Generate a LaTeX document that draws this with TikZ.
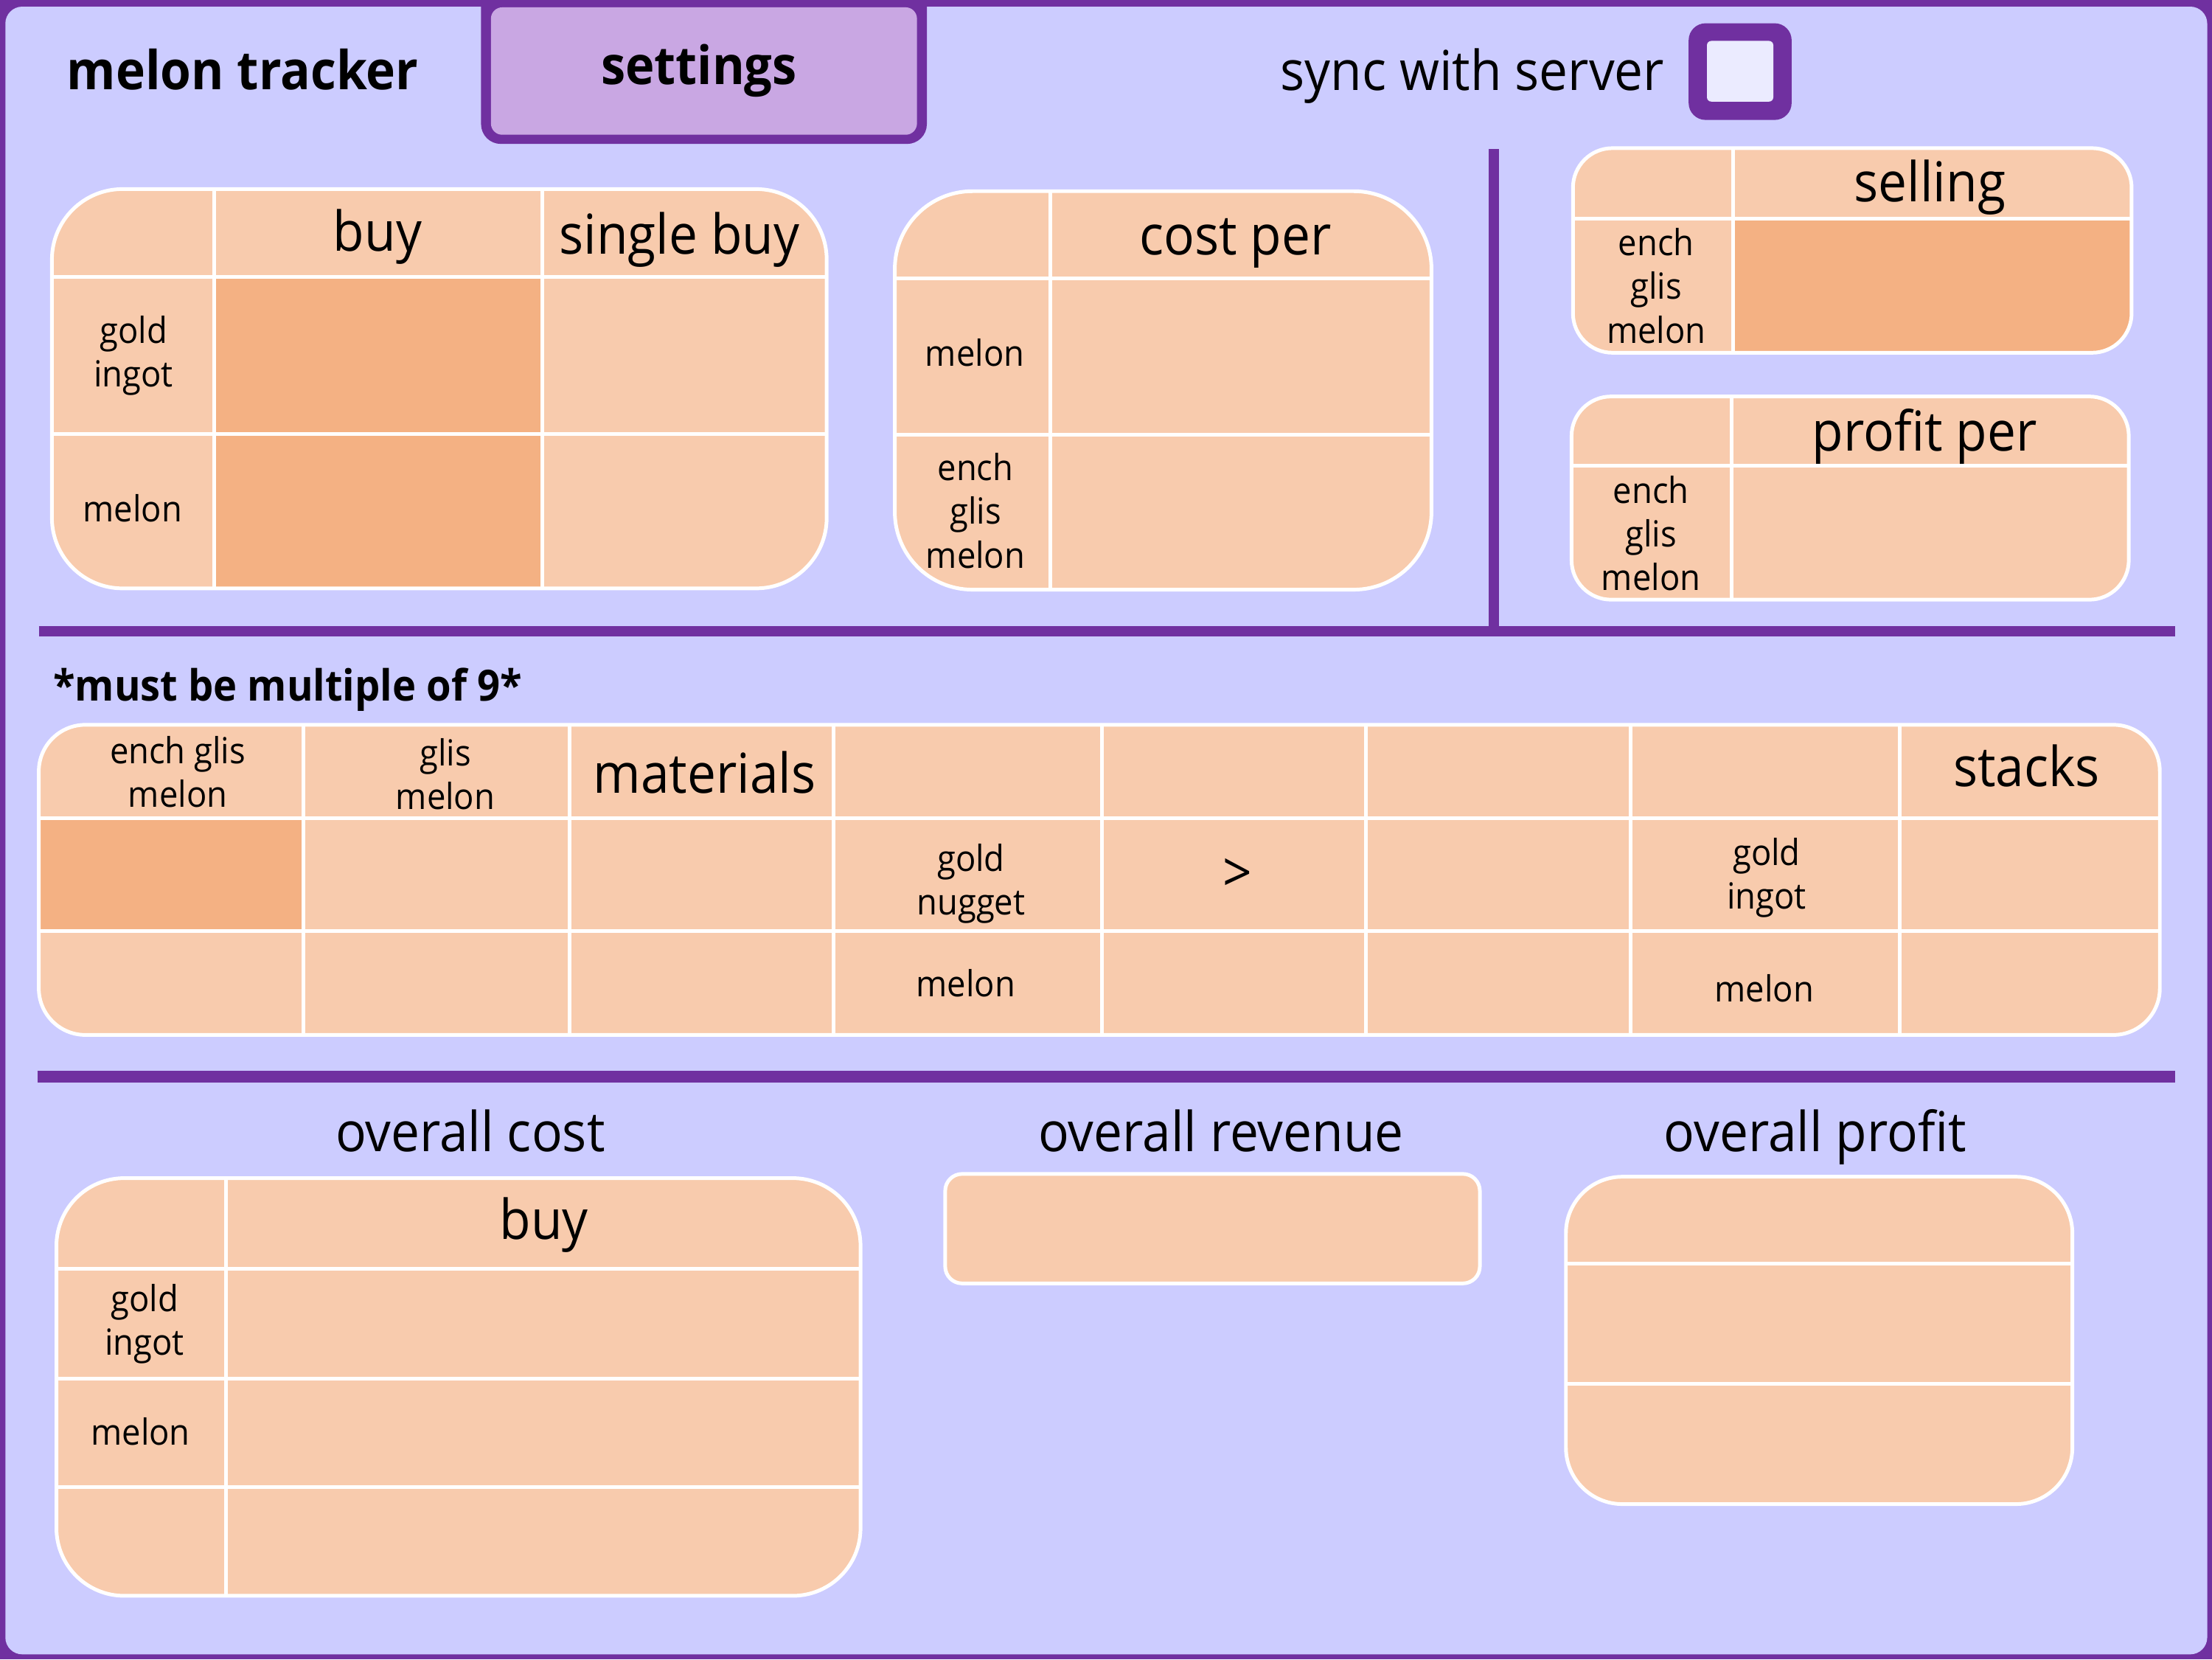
\documentclass[tikz,border=0pt]{standalone}
\usepackage{fontspec}
\setmainfont{Open Sans}[FakeStretch=0.93]
\usepackage{tikz}

\definecolor{frame}{HTML}{7030A0}
\definecolor{panel}{HTML}{CCCCFF}
\definecolor{tabfill}{HTML}{C9A7E3}
\definecolor{peach}{HTML}{F8CBAD}
\definecolor{peachdark}{HTML}{F4B183}
\definecolor{boxfill}{HTML}{EBEBFF}

\tikzset{
  tbl/.style={fill=peach},
  tblline/.style={white,line width=2.6pt},
  hot/.style={fill=peachdark},
  rule/.style={frame,line width=7.5pt},
  big/.style={font=\fontsize{39}{45}\selectfont},
  small/.style={font=\fontsize{25.5}{31}\selectfont,align=center},
  heavy/.style={font=\bfseries\fontsize{38}{44}\selectfont}
}

\begin{document}
\begin{tikzpicture}[x=1pt,y=-1pt]
\useasboundingbox (0,0) rectangle (1568,1176);
\fill[frame](0,0) rectangle (1568,1176);
\fill[panel,rounded corners=12](3.8,4.7) rectangle (1564.6,1172.5);

% tabs and checkbox
\fill[frame,rounded corners=14](341,-20) rectangle (657,102);
\fill[tabfill,rounded corners=8](348,5.2) rectangle (650,95.5);
\node[heavy] (title) at (172,49){melon tracker};
\node[heavy,font=\bfseries\fontsize{37.5}{44}\selectfont] (settings) at (495.5,50){settings};
\node[big] (sync) at (1043.6,53.7){sync with server};
\fill[frame,rounded corners=12](1197,16.5) rectangle (1270,85);
\fill[boxfill,rounded corners=3](1210,29) rectangle (1257,72);

% dividers
\draw[rule](1059,105.6) -- (1059,447.5);
\draw[rule](27.5,447.5) -- (1542,447.5);
\draw[rule,line width=8pt](26.5,763) -- (1542,763);

% buy / single buy
\fill[tbl,rounded corners=50](36.8,134) rectangle (586,417);
\fill[hot](151.7,196) rectangle (384.5,417);
\draw[tblline](151.7,134) -- (151.7,417);
\draw[tblline](384.5,134) -- (384.5,417);
\draw[tblline](36.8,196) -- (586,196);
\draw[tblline](36.8,307.5) -- (586,307.5);
\draw[tblline,rounded corners=50](36.8,134) rectangle (586,417);
\node[big] (buy) at (267.6,168){buy};
\node[big] (single) at (481.6,169.7){single buy};
\node[small] (ingot) at (94.7,252){gold\\ingot};
\node[small] (melon) at (94,360){melon};

% cost per
\fill[tbl,rounded corners=55](634.3,135.5) rectangle (1014.7,417.9);
\draw[tblline](744.3,135.5) -- (744.3,417.9);
\draw[tblline](634.3,197.4) -- (1014.7,197.4);
\draw[tblline](634.3,308.2) -- (1014.7,308.2);
\draw[tblline,rounded corners=55](634.3,135.5) rectangle (1014.7,417.9);
\node[big] (cost) at (875.6,172.5){cost per};
\node[small] (costmelon) at (691,250.1){melon};
\node[small] (costench) at (691.5,361.9){ench\\glis\\melon};

% selling
\fill[tbl,rounded corners=28](1115,105) rectangle (1511,250);
\begin{scope}
\clip[rounded corners=28](1115,105) rectangle (1511,250);
\fill[hot](1228.5,155) rectangle (1511,250);
\end{scope}
\draw[tblline](1228.5,105) -- (1228.5,250);
\draw[tblline](1115,155) -- (1511,155);
\draw[tblline,rounded corners=28](1115,105) rectangle (1511,250);
\node[big] (selling) at (1368,132.8){selling};
\node[small] (sellench) at (1174,202.5){ench\\glis\\melon};

% profit per
\fill[tbl,rounded corners=28](1114,281) rectangle (1509,425);
\draw[tblline](1227.5,281) -- (1227.5,425);
\draw[tblline](1114,330) -- (1509,330);
\draw[tblline,rounded corners=28](1114,281) rectangle (1509,425);
\node[big] (profit) at (1364.3,309.4){profit per};
\node[small] (profench) at (1170.3,378){ench\\glis\\melon};

% materials
\node[font=\bfseries\fontsize{30.5}{36}\selectfont,anchor=west,inner sep=0pt] (nine) at (37.5,488.8){*must be multiple of 9*};
\fill[tbl,rounded corners=33](27.5,513.7) rectangle (1531,733.5);
\fill[hot](27.5,580) rectangle (215,660);
\draw[tblline](215,513.7) -- (215,733.5);
\draw[tblline](404,513.7) -- (404,733.5);
\draw[tblline](591,513.7) -- (591,733.5);
\draw[tblline](781,513.7) -- (781,733.5);
\draw[tblline](968,513.7) -- (968,733.5);
\draw[tblline](1156,513.7) -- (1156,733.5);
\draw[tblline](1346.5,513.7) -- (1346.5,733.5);
\draw[tblline](27.5,580) -- (1531,580);
\draw[tblline](27.5,660) -- (1531,660);
\draw[tblline,rounded corners=33](27.5,513.7) rectangle (1531,733.5);
\node[small] (enchglis) at (126,547){ench glis\\melon};
\node[small] (glis) at (315.7,548.8){glis\\melon};
\node[big] (materials) at (499.5,547.7){materials};
\node[big] (stacks) at (1436.5,543){stacks};
\node[small] (nugget) at (688.3,626.2){gold\\nugget};
\node[big] (arrow) at (877.3,620.4){>};
\node[small] (matingot) at (1252.3,622){gold\\ingot};
\node[small] (matmelon) at (684.6,697){melon};
\node[small] (matmelonb) at (1250.7,700.7){melon};

% overall
\node[big] (allcost) at (333.4,801.6){overall cost};
\node[big] (allrev) at (865.5,801.6){overall revenue};
\node[big] (allprofit) at (1286.7,805.9){overall profit};

\fill[tbl,rounded corners=48](40,835) rectangle (610,1131);
\draw[tblline](160,835) -- (160,1131);
\draw[tblline](40,899) -- (610,899);
\draw[tblline](40,977) -- (610,977);
\draw[tblline](40,1054) -- (610,1054);
\draw[tblline,rounded corners=48](40,835) rectangle (610,1131);
\node[big] (allbuy) at (385.5,868.3){buy};
\node[small] (allingot) at (102.5,938.4){gold\\ingot};
\node[small] (allmelon) at (99.6,1014.8){melon};

\fill[tbl,rounded corners=12](670,832) rectangle (1049,909.6);
\draw[tblline,rounded corners=12](670,832) rectangle (1049,909.6);

\fill[tbl,rounded corners=40](1110,834) rectangle (1469,1066);
\draw[tblline](1110,895.6) -- (1469,895.6);
\draw[tblline](1110,981) -- (1469,981);
\draw[tblline,rounded corners=40](1110,834) rectangle (1469,1066);
\end{tikzpicture}
\end{document}
